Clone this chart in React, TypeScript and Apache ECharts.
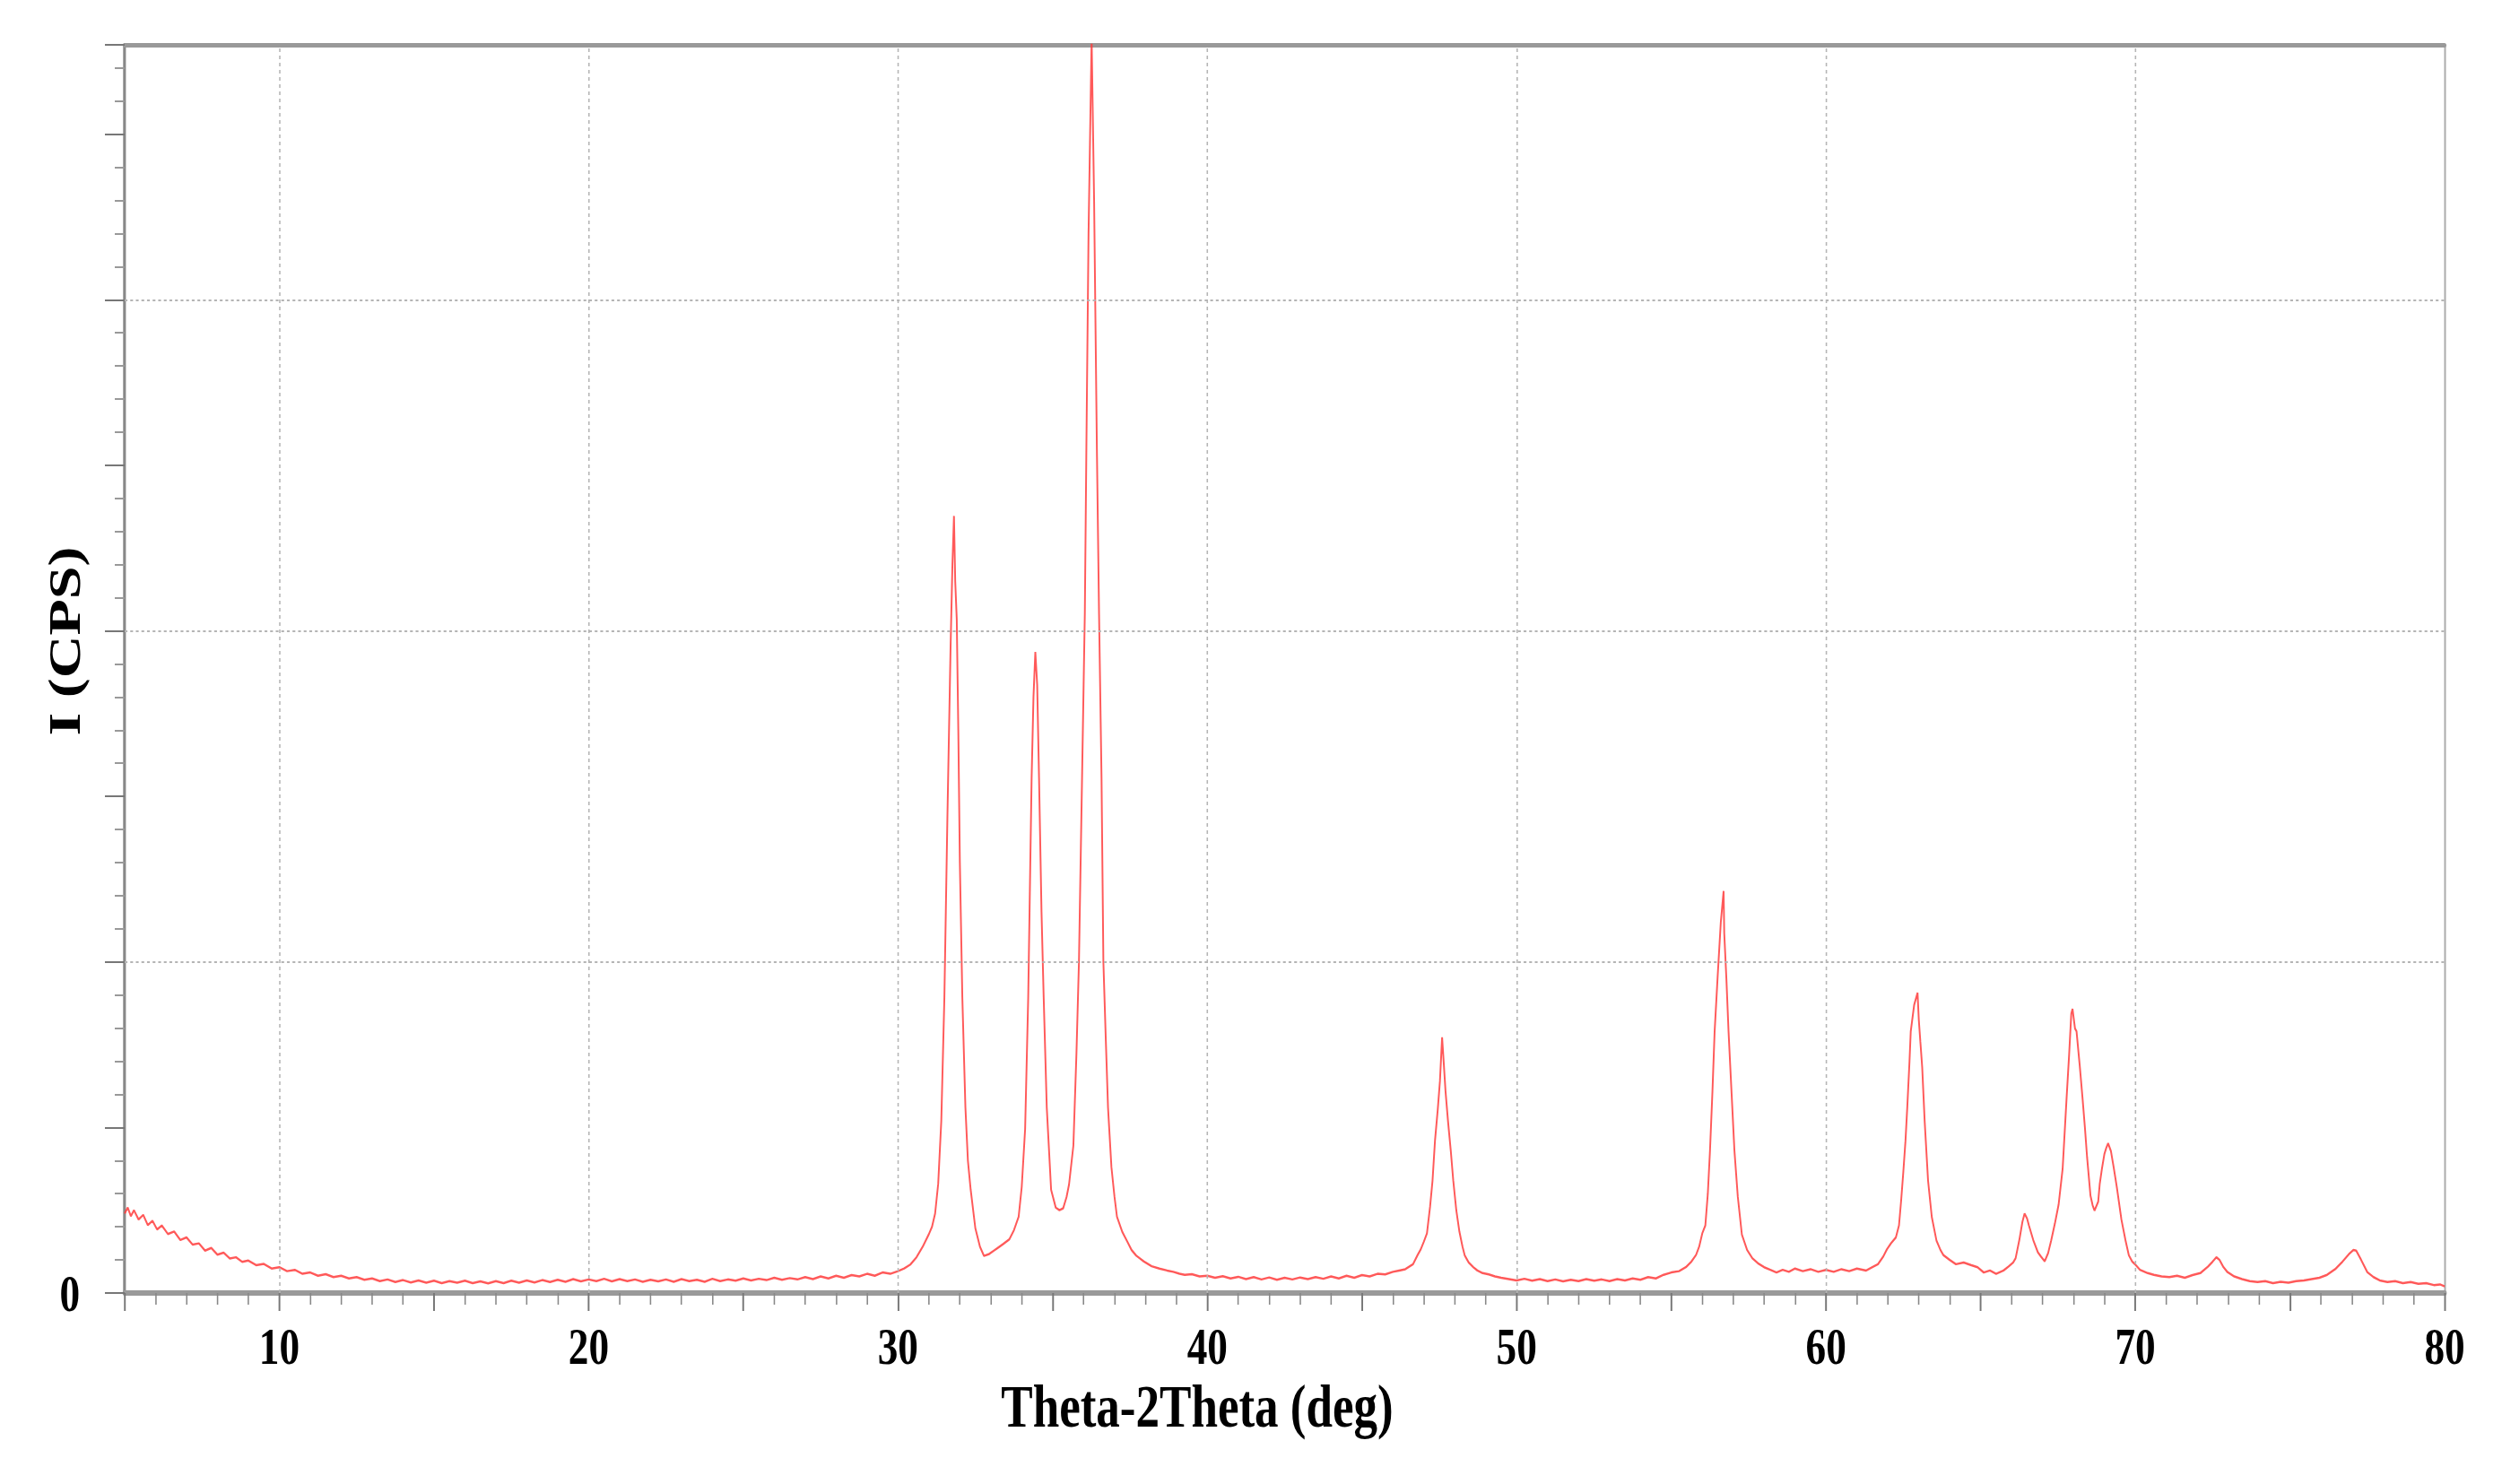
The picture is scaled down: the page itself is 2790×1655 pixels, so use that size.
import React, { useEffect, useRef } from "react";
import * as echarts from "echarts";

// 2θ (deg) vs intensity (CPS)
const segment5to30: [number, number][] = [
  [5.0, 240], [5.1, 258], [5.2, 232], [5.3, 250], [5.45, 222], [5.6, 236], [5.75, 205], [5.9, 218],
  [6.05, 192], [6.2, 204], [6.4, 178], [6.6, 186], [6.8, 160], [7.0, 168], [7.2, 146], [7.4, 150],
  [7.6, 128], [7.8, 136], [8.0, 116], [8.2, 122], [8.4, 104], [8.6, 108], [8.8, 94], [9.0, 98],
  [9.25, 84], [9.5, 88], [9.75, 74], [10.0, 78], [10.25, 66], [10.5, 70], [10.75, 58], [11.0, 62],
  [11.25, 52], [11.5, 57], [11.75, 48], [12.0, 52], [12.25, 44], [12.5, 48], [12.75, 40], [13.0, 44],
  [13.25, 36], [13.5, 41], [13.75, 33], [14.0, 39], [14.25, 32], [14.5, 38], [14.75, 31], [15.0, 37],
  [15.25, 30], [15.5, 36], [15.75, 31], [16.0, 37], [16.25, 30], [16.5, 35], [16.75, 29], [17.0, 36],
  [17.25, 30], [17.5, 37], [17.75, 31], [18.0, 38], [18.25, 32], [18.5, 39], [18.75, 33], [19.0, 40],
  [19.25, 34], [19.5, 42], [19.75, 35], [20.0, 41], [20.25, 36], [20.5, 43], [20.75, 35], [21.0, 42],
  [21.25, 36], [21.5, 41], [21.75, 34], [22.0, 40], [22.25, 35], [22.5, 41], [22.75, 34], [23.0, 42],
  [23.25, 36], [23.5, 40], [23.75, 34], [24.0, 43], [24.25, 36], [24.5, 41], [24.75, 37], [25.0, 44],
  [25.25, 38], [25.5, 43], [25.75, 39], [26.0, 46], [26.25, 40], [26.5, 45], [26.75, 41], [27.0, 48],
  [27.25, 42], [27.5, 50], [27.75, 44], [28.0, 52], [28.25, 46], [28.5, 54], [28.75, 50], [29.0, 58],
  [29.25, 52], [29.5, 62], [29.75, 58], [30.0, 66],
];

const segment30to40: [number, number][] = [
  [30.2, 74], [30.4, 86], [30.6, 108], [30.8, 140], [31.0, 178], [31.1, 200], [31.2, 240], [31.3, 330],
  [31.4, 520], [31.5, 893], [31.6, 1450], [31.7, 1950], [31.76, 2200], [31.81, 2347], [31.85, 2150],
  [31.9, 2035], [31.95, 1700], [32.0, 1300], [32.08, 893], [32.18, 560], [32.26, 400], [32.35, 312],
  [32.5, 196], [32.65, 140], [32.78, 112], [32.95, 118], [33.1, 128], [33.25, 138], [33.4, 148],
  [33.6, 162], [33.75, 190], [33.9, 230], [34.0, 320], [34.11, 495], [34.21, 893], [34.32, 1555],
  [34.38, 1800], [34.44, 1936], [34.5, 1837], [34.56, 1555], [34.64, 1150], [34.71, 893], [34.81, 560],
  [34.95, 312], [35.1, 258], [35.22, 250], [35.34, 256], [35.45, 290], [35.53, 328], [35.67, 445],
  [35.77, 726], [35.85, 1000], [35.92, 1389], [36.04, 2052], [36.09, 2549], [36.16, 3200],
  [36.26, 3790], [36.34, 3300], [36.43, 2549], [36.5, 2050], [36.58, 1555], [36.64, 1000],
  [36.72, 760], [36.79, 560], [36.9, 380], [37.0, 290], [37.08, 230], [37.25, 185], [37.42, 154],
  [37.55, 130], [37.7, 113], [37.95, 95], [38.2, 81], [38.45, 74], [38.7, 68], [38.9, 64], [39.1, 58],
  [39.27, 55], [39.5, 57], [39.75, 50], [40.0, 52],
];

const segment40to60: [number, number][] = [
  [40.25, 46], [40.5, 51], [40.75, 44], [41.0, 49], [41.25, 42], [41.5, 48], [41.75, 41], [42.0, 47],
  [42.25, 40], [42.5, 46], [42.75, 41], [43.0, 47], [43.25, 42], [43.5, 48], [43.75, 43], [44.0, 50],
  [44.25, 44], [44.5, 52], [44.75, 46], [45.0, 54], [45.25, 50], [45.5, 58], [45.75, 56], [46.0, 64],
  [46.2, 68], [46.4, 72], [46.65, 87], [46.8, 115], [46.9, 132], [47.0, 155], [47.1, 180], [47.2, 260],
  [47.28, 339], [47.36, 460], [47.45, 555], [47.52, 640], [47.59, 772], [47.64, 700], [47.7, 610],
  [47.78, 520], [47.87, 430], [47.95, 340], [48.05, 249], [48.15, 185], [48.25, 140], [48.32, 114],
  [48.45, 92], [48.6, 78], [48.73, 68], [48.9, 60], [49.1, 56], [49.3, 50], [49.5, 46], [49.75, 42],
  [50.0, 38], [50.25, 43], [50.5, 37], [50.75, 42], [51.0, 36], [51.25, 41], [51.5, 35], [51.75, 40],
  [52.0, 36], [52.25, 42], [52.5, 37], [52.75, 41], [53.0, 36], [53.25, 42], [53.5, 38], [53.75, 44],
  [54.0, 40], [54.25, 48], [54.5, 44], [54.75, 55], [55.0, 62], [55.25, 66], [55.47, 78], [55.65, 95],
  [55.8, 115], [55.9, 140], [56.0, 180], [56.1, 204], [56.18, 300], [56.25, 430], [56.33, 610],
  [56.4, 790], [56.5, 960], [56.6, 1120], [56.69, 1214], [56.71, 1088], [56.78, 950], [56.85, 790],
  [56.95, 600], [57.04, 430], [57.15, 290], [57.28, 177], [57.45, 130], [57.62, 105], [57.8, 90],
  [58.0, 78], [58.2, 70], [58.4, 62], [58.6, 70], [58.8, 64], [59.0, 74], [59.25, 66], [59.5, 72],
  [59.75, 64], [60.0, 70],
];

const segment60to80: [number, number][] = [
  [60.25, 64], [60.5, 72], [60.75, 66], [61.0, 74], [61.3, 68], [61.5, 78], [61.68, 87], [61.85, 110],
  [61.97, 132], [62.1, 150], [62.26, 168], [62.36, 204], [62.43, 280], [62.5, 366], [62.57, 460],
  [62.63, 565], [62.7, 700], [62.74, 790], [62.85, 870], [62.96, 907], [63.0, 826], [63.05, 760],
  [63.11, 682], [63.19, 519], [63.3, 339], [63.42, 230], [63.57, 159], [63.7, 130], [63.8, 114],
  [64.0, 100], [64.2, 87], [64.45, 92], [64.7, 84], [64.9, 78], [65.1, 62], [65.3, 68], [65.5, 58],
  [65.74, 68], [65.9, 80], [66.05, 92], [66.13, 105], [66.25, 160], [66.35, 215], [66.42, 240],
  [66.5, 225], [66.56, 204], [66.7, 160], [66.85, 123], [66.95, 110], [67.07, 96], [67.18, 120],
  [67.28, 159], [67.4, 210], [67.52, 267], [67.65, 375], [67.78, 592], [67.86, 720], [67.93, 844],
  [67.97, 858], [68.05, 799], [68.1, 790], [68.2, 690], [68.29, 592], [68.37, 500], [68.44, 411],
  [68.55, 294], [68.62, 265], [68.68, 249], [68.8, 276], [68.85, 330], [68.92, 375], [69.0, 420],
  [69.06, 438], [69.12, 452], [69.21, 429], [69.3, 380], [69.4, 321], [69.55, 222], [69.68, 160],
  [69.79, 114], [69.9, 95], [69.99, 87], [70.15, 70], [70.4, 60], [70.6, 55], [70.85, 50], [71.1, 48],
  [71.35, 52], [71.6, 46], [71.85, 54], [72.1, 60], [72.35, 80], [72.5, 95], [72.62, 108], [72.72, 100],
  [72.85, 78], [72.98, 63], [73.2, 50], [73.45, 42], [73.7, 36], [73.95, 33], [74.2, 36], [74.45, 30],
  [74.7, 34], [74.95, 31], [75.2, 36], [75.45, 38], [75.7, 42], [75.95, 46], [76.2, 55], [76.46, 72],
  [76.7, 95], [76.9, 117], [77.05, 130], [77.14, 128], [77.3, 100], [77.5, 63], [77.7, 48], [77.9, 38],
  [78.15, 33], [78.4, 36], [78.65, 30], [78.9, 33], [79.15, 28], [79.4, 30], [79.65, 24], [79.85, 26],
  [80.0, 20],
];

const xRange = [5, 80];
const yRange = [0, 3770];
const xGridLines = [10, 20, 30, 40, 50, 60, 70];
const yGridLines = [1000, 2000, 3000];
const xTitle = "Theta-2Theta (deg)";
const yTitle = "I (CPS)";

const W = 2790;
const H = 1655;
const K = 0.78; // horizontal squeeze of the original figure
const IW = W / K;
const FONT = '"Liberation Serif", "Times New Roman", serif';

export default function App() {
  const ref = useRef<HTMLDivElement>(null);

  useEffect(() => {
    if (!ref.current) return;
    const chart = echarts.init(ref.current, null, { renderer: "svg" });
    const data = [...segment5to30, ...segment30to40, ...segment40to60, ...segment60to80];
    const px = (v: number) => v / K;

    chart.setOption({
      animation: false,
      backgroundColor: "#ffffff",
      grid: {
        left: px(139),
        right: px(64),
        top: 50,
        bottom: H - 1442,
        show: false,
      },
      xAxis: [
        {
          type: "value",
          min: xRange[0],
          max: xRange[1],
          interval: 5,
          axisLine: { show: true, onZero: false, lineStyle: { color: "#9a9a9a", width: 6 } },
          axisTick: { show: true, length: 20, lineStyle: { color: "#777", width: 2.5 } },
          minorTick: { show: true, splitNumber: 5, length: 13, lineStyle: { color: "#888", width: 2 } },
          splitLine: { show: false },
          axisLabel: {
            margin: 30,
            fontFamily: FONT,
            fontWeight: "bold",
            fontSize: 58,
            color: "#000",
            formatter: (v: number) => (v % 10 === 0 ? String(v) : ""),
          },
        },
        {
          type: "value",
          position: "top",
          min: xRange[0],
          max: xRange[1],
          axisLine: { show: true, onZero: false, lineStyle: { color: "#999", width: 5 } },
          axisTick: { show: false },
          axisLabel: { show: false },
          splitLine: { show: false },
        },
      ],
      yAxis: [
        {
          type: "value",
          min: yRange[0],
          max: yRange[1],
          interval: 500,
          axisLine: { show: true, onZero: false, lineStyle: { color: "#888", width: 4 } },
          axisTick: { show: true, length: px(22), lineStyle: { color: "#777", width: 2 } },
          minorTick: { show: true, splitNumber: 5, length: px(11), lineStyle: { color: "#999", width: 2 } },
          splitLine: { show: false },
          axisLabel: {
            margin: px(50),
            fontFamily: FONT,
            fontWeight: "bold",
            fontSize: 58,
            color: "#000",
            formatter: (v: number) => (v === 0 ? "0" : ""),
          },
        },
        {
          type: "value",
          position: "right",
          min: yRange[0],
          max: yRange[1],
          axisLine: { show: true, onZero: false, lineStyle: { color: "#aaa", width: 2.5 } },
          axisTick: { show: false },
          axisLabel: { show: false },
          splitLine: { show: false },
        },
      ],
      series: [
        {
          type: "line",
          data: [],
          silent: true,
          z: 1,
          markLine: {
            silent: true,
            symbol: ["none", "none"],
            label: { show: false },
            lineStyle: { color: "#b5b5b5", width: 2, type: [4, 4] },
            data: [
              ...xGridLines.map((v) => ({ xAxis: v })),
              ...yGridLines.map((v) => ({ yAxis: v })),
            ],
          },
        },
        {
          type: "line",
          data,
          showSymbol: false,
          z: 2,
          clip: true,
          lineStyle: { color: "rgba(255,60,60,0.85)", width: 2.5 },
        },
      ],
      graphic: [
        {
          type: "text",
          x: px(1335),
          y: 1568,
          style: {
            text: xTitle,
            fontFamily: FONT,
            fontWeight: "bold",
            fontSize: 68,
            fill: "#000",
            align: "center",
            verticalAlign: "middle",
          },
        },
        {
          type: "text",
          x: px(72),
          y: 715,
          rotation: Math.PI / 2,
          style: {
            text: yTitle,
            fontFamily: FONT,
            fontWeight: "bold",
            fontSize: 66,
            fill: "#000",
            align: "center",
            verticalAlign: "middle",
          },
        },
      ],
    });

    return () => chart.dispose();
  }, []);

  return (
    <div
      style={{
        position: "fixed",
        left: 0,
        top: 0,
        width: W,
        height: H,
        overflow: "hidden",
        background: "#fff",
      }}
    >
      <div
        ref={ref}
        style={{
          width: IW,
          height: H,
          transform: `scaleX(${K})`,
          transformOrigin: "0 0",
        }}
      />
    </div>
  );
}
